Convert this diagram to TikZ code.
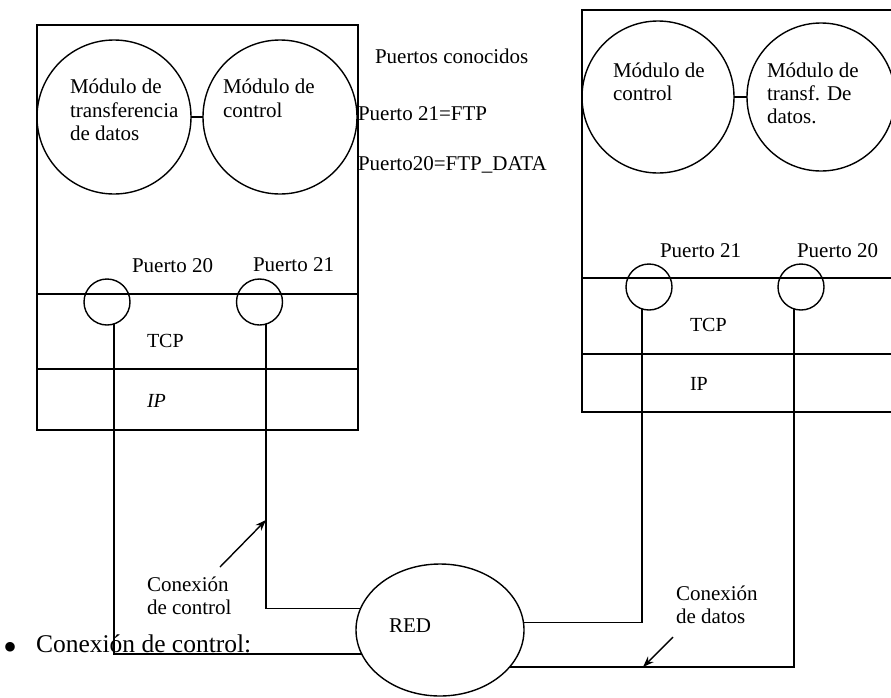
\documentclass[tikz,border=0pt]{standalone}
\usepackage{fontspec}
\setmainfont{Liberation Serif}
\usetikzlibrary{shapes.geometric,arrows.meta}
\begin{document}
\begin{tikzpicture}[x=1pt,y=-1pt,line width=1.4pt,
  lbl/.style={font=\fontsize{21}{23}\selectfont,inner sep=0,outer sep=0,anchor=base west},
  big/.style={font=\fontsize{25.5}{28}\selectfont,inner sep=0,outer sep=0,anchor=base west},
  modc/.style={circle,draw,inner sep=0,outer sep=0},
  portc/.style={circle,draw,minimum size=46pt,inner sep=0,outer sep=0},
  arr/.style={-{Stealth[length=11pt,width=8pt]},line width=1.4pt}]
\useasboundingbox (0,0) rectangle (891,697);
\clip (0,0) rectangle (891,697);

% ---------- left host ----------
\draw (37,25) rectangle (358,430);
\draw (37,294) -- (358,294);
\draw (37,369) -- (358,369);
\node[modc,minimum size=154pt] (lm1) at (114,117) {};
\node[modc,minimum size=154pt] (lm2) at (280,117) {};
\draw (lm1.east) -- (lm2.west);
\node[lbl] (l1a) at (70,93) {Módulo de};
\node[lbl] (l1b) at (70,117) {transferencia};
\node[lbl] (l1c) at (70,140) {de datos};
\node[lbl] (l2a) at (223,93) {Módulo de};
\node[lbl] (l2b) at (223,117) {control};
\node[lbl] (lp20t) at (132,272) {Puerto 20};
\node[lbl] (lp21t) at (253,271) {Puerto 21};
\node[portc] (lp20) at (107,302) {};
\node[portc] (lp21) at (259.5,302) {};
\node[lbl,font=\fontsize{20}{22}\selectfont] (ltcp) at (147,347) {TCP};
\node[lbl,font=\fontsize{20}{22}\selectfont\itshape] (lip) at (147,407) {IP};

% ---------- well-known ports ----------
\node[lbl] (pc) at (375,63) {Puertos conocidos};
\node[lbl] (p21) at (358,120) {Puerto 21=FTP};
\node[lbl] (p20) at (358,170) {Puerto20=FTP\_DATA};

% ---------- right host ----------
\draw (582,10) rectangle (905,412);
\draw (582,278) -- (905,278);
\draw (582,354) -- (905,354);
\node[modc,minimum size=152pt] (rm1) at (658,97) {};
\node[modc,minimum size=148pt] (rm2) at (821,97) {};
\draw (rm1.east) -- (rm2.west);
\node[lbl] (r1a) at (613,77) {Módulo de};
\node[lbl] (r1b) at (613,100) {control};
\node[lbl] (r2a) at (767,77) {Módulo de};
\node[lbl] (r2b) at (767,100) {transf. De};
\node[lbl] (r2c) at (767,123) {datos.};
\node[lbl] (rp21t) at (660,257) {Puerto 21};
\node[lbl] (rp20t) at (797,257) {Puerto 20};
\node[portc] (rp21) at (649,287) {};
\node[portc] (rp20) at (801,287) {};
\node[lbl,font=\fontsize{20}{22}\selectfont] (rtcp) at (690,331) {TCP};
\node[lbl,font=\fontsize{20}{22}\selectfont] (rip) at (690,390) {IP};

% ---------- network ----------
\node[ellipse,draw,minimum width=168pt,minimum height=132pt,inner sep=0,outer sep=0] (red) at (440,630) {};
\node[lbl] (redt) at (389,632) {RED};

% ---------- connections ----------
\draw (lp20.-72) |- (red.197);
\draw (lp21.-74) |- (red.165);
\draw (rp21.-108) |- (red.5.5);
\draw (rp20.-108) |- (red.-28);

% ---------- labels with arrows ----------
\node[lbl] (cc1) at (147,591) {Conexión};
\node[lbl] (cc2) at (147,614) {de control};
\coordinate (cca) at (220,567);
\coordinate (ccb) at (266,520);
\draw[arr] (cca) -- (ccb);
\node[lbl] (cd1) at (676,600) {Conexión};
\node[lbl] (cd2) at (676,623) {de datos};
\coordinate (cda) at (673,637);
\coordinate (cdb) at (643,667);
\draw[arr] (cda) -- (cdb);

% ---------- bullet ----------
\node[big,font=\fontsize{40}{42}\selectfont] (bul) at (4,660) {\textbullet};
\node[big] (bt) at (36,652) {Conexión de control:};
\end{tikzpicture}
\end{document}
